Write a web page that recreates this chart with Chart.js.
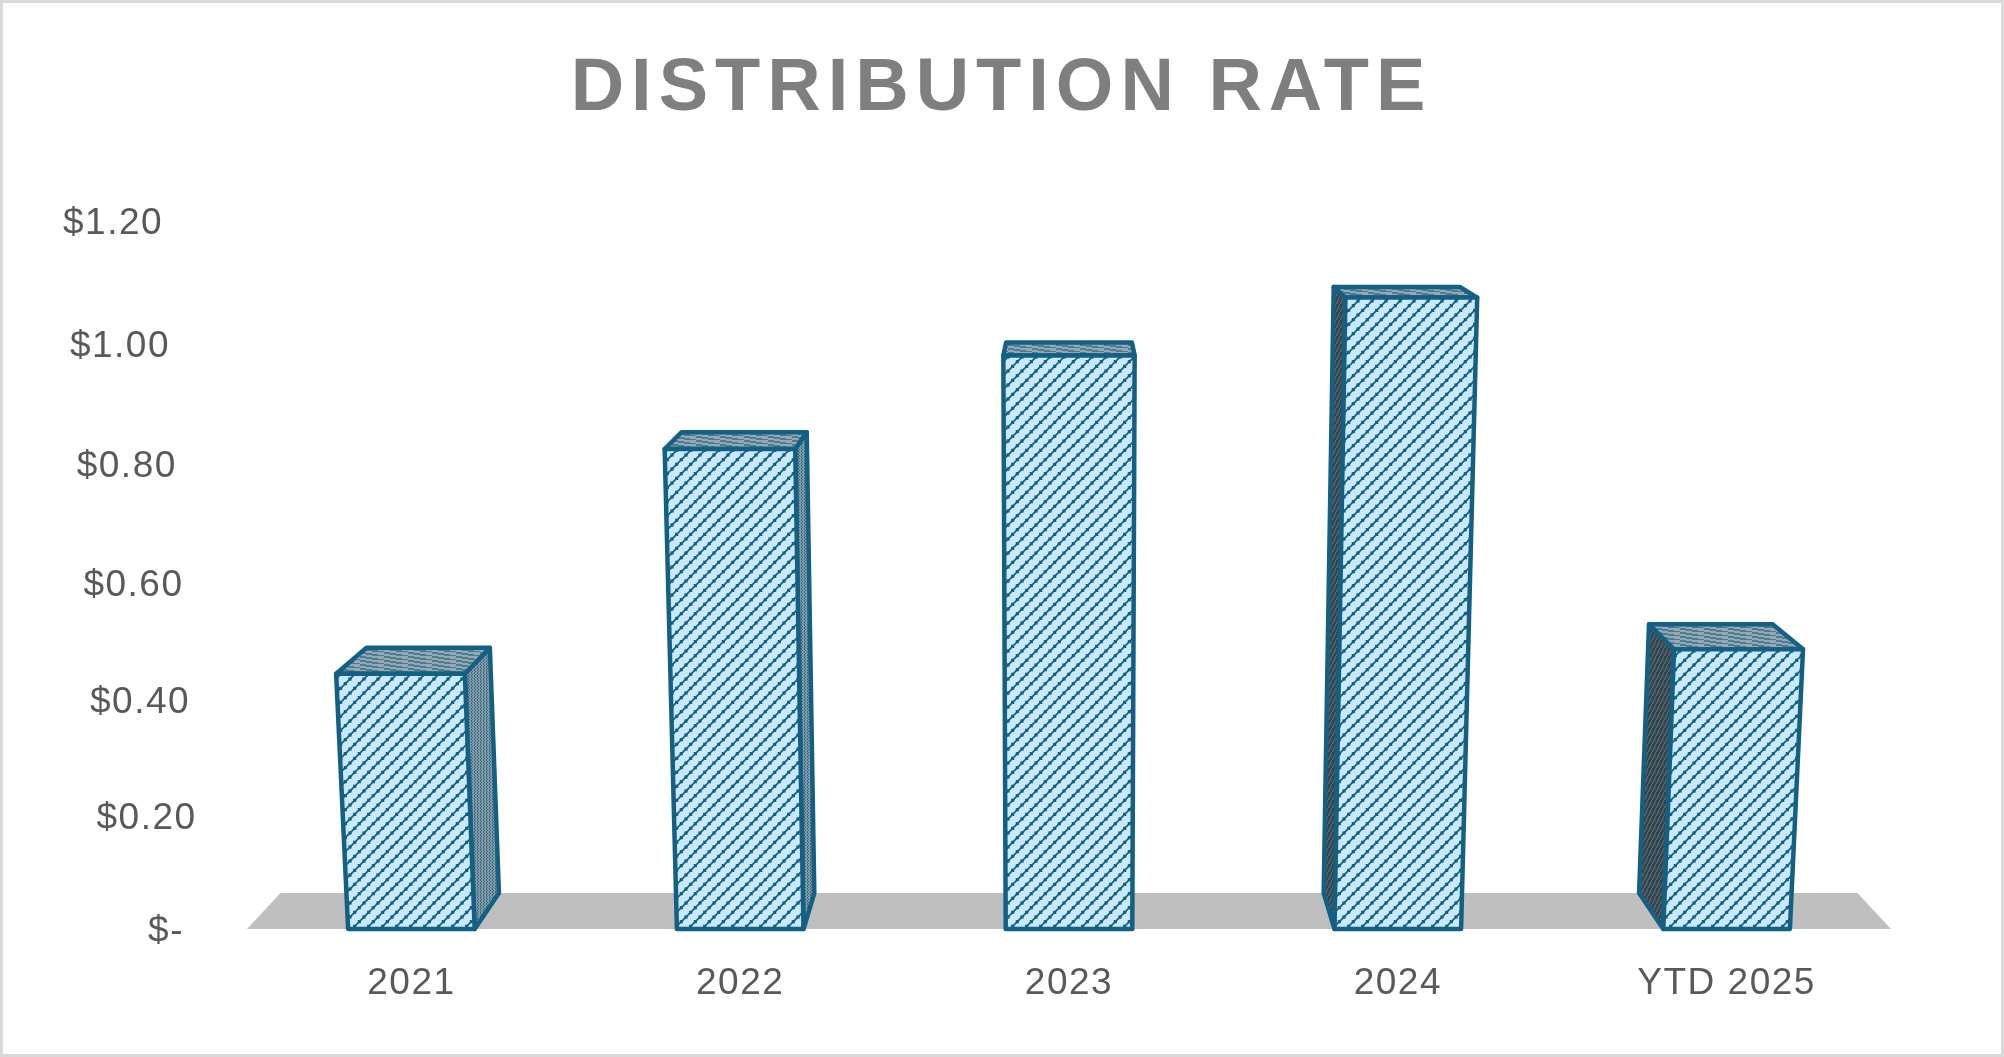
<!DOCTYPE html>
<html>
<head>
<meta charset="utf-8">
<title>Distribution Rate</title>
<script src="https://cdn.jsdelivr.net/npm/chart.js@4"></script>
<style>
  html, body { margin: 0; padding: 0; background: #fff; }
  canvas { display: block; }
</style>
</head>
<body>
<canvas id="myChart" width="2004" height="1057"></canvas>
<script>
const categories = ['2021', '2022', '2023', '2024', 'YTD 2025'];
const rates = [0.445, 0.825, 0.98, 1.075, 0.487];
const axisMax = 1.2;
const axisStep = 0.2;
const chartTitle = 'DISTRIBUTION RATE';

// perspective of the original 3D chart, fitted from the bar corners
const centerX = 1069;
const riseBend = 0.0367;
const depthBend = 0.0425;
const depthLift = 37.5;
const labelPlaneX = 203;

function rise(v, z, area) {
  const span = axisMax / (1 - riseBend * axisMax);
  return ((area.bottom - area.top) / span * v + depthLift * z) / (1 - riseBend * v + depthBend * z);
}
function project(px, v, z, area) {
  const w = 1 - riseBend * v + depthBend * z;
  return { x: centerX + (px - centerX) / w, y: area.bottom - rise(v, z, area) };
}

class PerspectiveScale extends Chart.LinearScale {
  getPixelForValue(v) {
    return this.bottom - rise(v, 0, this);
  }
  getValueForPixel(p) {
    const k = (this.bottom - this.top) * (1 - riseBend * axisMax) / axisMax;
    const d = this.bottom - p;
    return d / (k + riseBend * d);
  }
  _computeLabelItems(area) {
    const items = super._computeLabelItems(area);
    items.forEach((item, i) => {
      const v = this.ticks[i].value;
      // accounting format leaves room after the dash
      const shift = v === 0 ? 19 : 0;
      item.options.translation[0] = project(labelPlaneX, v, 0, this).x - shift;
      item.options.translation[1] += 3;
      item.options.textAlign = 'right';
    });
    return items;
  }
}
PerspectiveScale.id = 'perspective';
PerspectiveScale.defaults = Chart.LinearScale.defaults;
Chart.register(PerspectiveScale);

function hatch(w, h, bg, fg, paint) {
  const c = document.createElement('canvas');
  c.width = w;
  c.height = h;
  const g = c.getContext('2d');
  g.fillStyle = bg;
  g.fillRect(0, 0, w, h);
  g.fillStyle = fg;
  paint(g);
  return document.createElement('canvas').getContext('2d').createPattern(c, 'repeat');
}
const frontFill = hatch(14, 14, '#c9e9fb', '#156082', g => {
  // one up-right line per tile, beaded with dots
  g.strokeStyle = '#156082';
  g.lineWidth = 1.7;
  [7, 21].forEach(k => {
    g.beginPath();
    g.moveTo(-2, k + 2);
    g.lineTo(k + 2, -2);
    g.stroke();
  });
  for (let i = 0; i < 3; i++) {
    const x = i * 14 / 3;
    const y = (7 - x + 14) % 14;
    [-14, 0, 14].forEach(ox => [-14, 0, 14].forEach(oy => {
      g.fillRect(x + ox - 1.6, y + oy - 1.6, 3.2, 3.2);
    }));
  }
});
const topFill = hatch(24, 4, '#93aab6', '#4f7c91', g => {
  for (let x = 0; x < 24; x += 6) g.fillRect(x, x / 6, 6, 2);
});
const rightFill = hatch(3, 3, '#7f9aa8', '#3f6a7e', g => {
  g.fillRect(0, 0, 1, 2);
  g.fillRect(1, 2, 1, 1);
});
const leftFill = hatch(4, 8, '#33464f', '#56666e', g => {
  for (let y = 0; y < 8; y++) g.fillRect((7 - y) >> 1, y, 1.5, 1);
});
const edgeColor = '#156082';

function face(ctx, pts, fill) {
  ctx.beginPath();
  pts.forEach((p, i) => (i ? ctx.lineTo(p.x, p.y) : ctx.moveTo(p.x, p.y)));
  ctx.closePath();
  ctx.fillStyle = fill;
  ctx.fill();
  ctx.stroke();
}

const prismBars = {
  id: 'prismBars',
  beforeDraw(chart) {
    const ctx = chart.ctx;
    ctx.save();
    ctx.fillStyle = '#fff';
    ctx.fillRect(0, 0, chart.width, chart.height);
    ctx.strokeStyle = '#d9d9d9';
    ctx.lineWidth = 3;
    ctx.strokeRect(1.5, 1.5, chart.width - 3, chart.height - 3);
    ctx.restore();
    ctx.letterSpacing = '1.5px';
  },
  afterLayout(chart) {
    // title is letter spaced in the original and centred on the whole page
    const block = chart.titleBlock;
    if (block.spaced) return;
    const draw = block.draw;
    block.spaced = true;
    block.draw = function () {
      const ctx = chart.ctx;
      ctx.save();
      ctx.translate(56, 0);
      ctx.letterSpacing = '7px';
      draw.call(block);
      ctx.restore();
    };
  },
  beforeDatasetsDraw(chart) {
    const a = chart.chartArea;
    const ctx = chart.ctx;
    const floor = [
      project(a.left, 0, 0, a), project(a.right, 0, 0, a),
      project(a.right, 0, 1, a), project(a.left, 0, 1, a)
    ];
    ctx.save();
    ctx.beginPath();
    floor.forEach((p, i) => (i ? ctx.lineTo(p.x, p.y) : ctx.moveTo(p.x, p.y)));
    ctx.closePath();
    ctx.fillStyle = '#bfbfbf';
    ctx.fill();
    ctx.restore();
  },
  beforeDatasetDraw(chart, args) {
    const a = chart.chartArea;
    const ctx = chart.ctx;
    ctx.save();
    ctx.strokeStyle = edgeColor;
    ctx.lineWidth = 4.5;
    ctx.lineJoin = 'round';
    args.meta.data.forEach((bar, i) => {
      const v = chart.data.datasets[args.index].data[i];
      const l = bar.x - bar.width / 2;
      const r = bar.x + bar.width / 2;
      const fbl = project(l, 0, 0, a), fbr = project(r, 0, 0, a);
      const ftl = project(l, v, 0, a), ftr = project(r, v, 0, a);
      const bbl = project(l, 0, 1, a), bbr = project(r, 0, 1, a);
      const btl = project(l, v, 1, a), btr = project(r, v, 1, a);
      if (bbl.x < fbl.x && l > centerX) face(ctx, [fbl, ftl, btl, bbl], leftFill);
      if (bbr.x > fbr.x && r < centerX) face(ctx, [fbr, ftr, btr, bbr], rightFill);
      if (btl.y < ftl.y) face(ctx, [ftl, ftr, btr, btl], topFill);
      face(ctx, [fbl, fbr, ftr, ftl], frontFill);
    });
    ctx.restore();
    return false;
  }
};

new Chart(document.getElementById('myChart').getContext('2d'), {
  type: 'bar',
  data: {
    labels: categories,
    datasets: [{
      label: 'Distribution Rate',
      data: rates,
      backgroundColor: '#c9e9fb',
      borderColor: edgeColor,
      barPercentage: 0.385,
      categoryPercentage: 1
    }]
  },
  options: {
    responsive: false,
    animation: false,
    events: [],
    layout: { padding: { left: 0, right: 113, top: 0, bottom: 0 } },
    plugins: {
      legend: { display: false },
      tooltip: { enabled: false },
      title: {
        display: true,
        text: chartTitle,
        color: '#7f7f7f',
        font: { family: 'Liberation Sans', size: 74, weight: 'bold', lineHeight: 1.2 },
        padding: { top: 45, bottom: 87 }
      }
    },
    scales: {
      x: {
        grid: { display: false, drawTicks: false },
        border: { display: false },
        ticks: {
          color: '#595959',
          font: { family: 'Liberation Sans', size: 37 },
          padding: 33,
          maxRotation: 0
        },
        afterFit(s) { s.height = 128; }
      },
      y: {
        type: 'perspective',
        min: 0,
        max: axisMax,
        grid: { display: false, drawTicks: false },
        border: { display: false },
        ticks: {
          stepSize: axisStep,
          color: '#595959',
          font: { family: 'Liberation Sans', size: 37 },
          callback: value => (value === 0 ? '$-' : '$' + value.toFixed(2))
        },
        afterFit(s) { s.width = 247; }
      }
    }
  },
  plugins: [prismBars]
});
</script>
</body>
</html>
